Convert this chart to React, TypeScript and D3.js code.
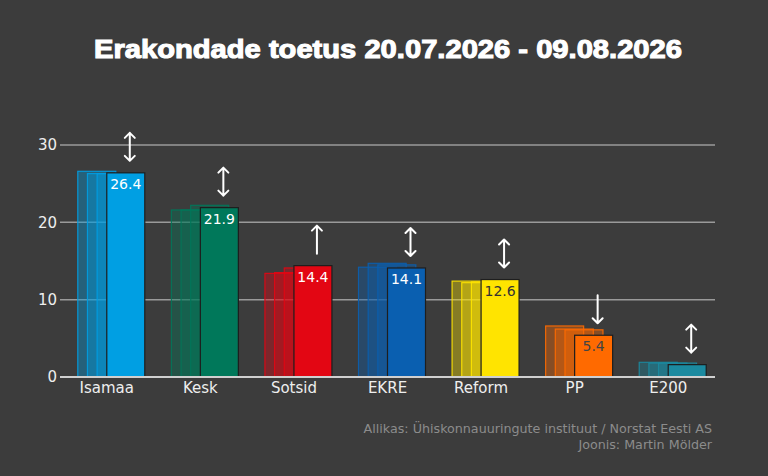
import * as d3 from "d3";

// party support, three previous polls + the current one
const parties = ["Isamaa", "Kesk", "Sotsid", "EKRE", "Reform", "PP", "E200"];
const poll1 = [26.6, 21.6, 13.4, 14.2, 12.4, 6.6, 1.9];
const poll2 = [26.3, 21.6, 13.5, 14.7, 12.2, 6.2, 1.8];
const poll3 = [26.3, 22.2, 14.1, 14.5, 12.3, 6.1, 1.8];
const current = [26.4, 21.9, 14.4, 14.1, 12.6, 5.4, 1.6];
const trend = ["both", "both", "up", "both", "both", "down", "both"];
const partyColors = ["#009fe3", "#00785a", "#e30613", "#0a5fb0", "#ffe400", "#ff6a00", "#1b8aa0"];
const labelColors = ["#ffffff", "#ffffff", "#ffffff", "#ffffff", "#333333", "#444444", "#ffffff"];
const yTicks = [0, 10, 20, 30];

const W = 768;
const H = 476;
const font = "'DejaVu Sans', Verdana, sans-serif";

export default function App() {
  const x = d3.scaleBand().domain(parties).range([60, 715]).padding(0);
  const y = d3.scaleLinear().domain([0, 30]).range([377, 145]);
  const offset = d3.scalePoint<number>().domain([0, 1, 2, 3]).range([-29, 0]);
  const barW = 38;
  const polls = [poll1, poll2, poll3];

  const arrowPath = (cx: number, top: number, bottom: number, kind: string) => {
    const p = d3.path();
    p.moveTo(cx, top);
    p.lineTo(cx, bottom);
    if (kind === "both" || kind === "up") {
      p.moveTo(cx - 5, top + 5);
      p.lineTo(cx, top);
      p.lineTo(cx + 5, top + 5);
    }
    if (kind === "both" || kind === "down") {
      p.moveTo(cx - 5, bottom - 5);
      p.lineTo(cx, bottom);
      p.lineTo(cx + 5, bottom - 5);
    }
    return p.toString();
  };

  return (
    <svg
      width={W}
      height={H}
      style={{ position: "absolute", left: 0, top: 0, background: "#3c3c3c" }}
    >
      <rect width={W} height={H} fill="#3c3c3c" />
      <text
        x={388}
        y={58}
        textAnchor="middle"
        fill="#ffffff"
        stroke="#ffffff"
        strokeWidth={1.1}
        fontFamily="'Liberation Sans', Arial, sans-serif"
        fontWeight="bold"
        fontSize={26}
        textLength={588}
        lengthAdjust="spacingAndGlyphs"
      >
        Erakondade toetus 20.07.2026 - 09.08.2026
      </text>

      {/* grid */}
      {yTicks.map((t) => (
        <g key={t}>
          {t > 0 && (
            <line x1={60} x2={715} y1={y(t)} y2={y(t)} stroke="#9a9a9a" strokeWidth={1.5} />
          )}
          <text
            x={57}
            y={y(t)}
            dy="0.35em"
            textAnchor="end"
            fill="#eeeeee"
            fontFamily={font}
            fontSize={15}
          >
            {t}
          </text>
        </g>
      ))}

      {parties.map((p, i) => {
        const c = x(p)! + x.bandwidth() / 2;
        const col = partyColors[i];
        const top = y(current[i]);
        const cx = c + offset(3)! + barW / 2;
        return (
          <g key={p}>
            {polls.map((poll, k) => (
              <rect
                key={k}
                x={c + offset(k)!}
                y={y(poll[i])}
                width={barW}
                height={y(0) - y(poll[i])}
                fill={col}
                fillOpacity={0.38}
                stroke={col}
                strokeOpacity={0.9}
                strokeWidth={1.2}
              />
            ))}
            <rect
              x={c + offset(3)!}
              y={top}
              width={barW}
              height={y(0) - top}
              fill={col}
              stroke="#1e1e1e"
              strokeWidth={1.2}
            />
            {current[i] >= 3 && (
              <text
                x={cx}
                y={top + 16}
                textAnchor="middle"
                fill={labelColors[i]}
                fontFamily={font}
                fontSize={14}
              >
                {current[i].toFixed(1)}
              </text>
            )}
            <path
              d={arrowPath(cx + 4, top - 40, top - 12, trend[i])}
              fill="none"
              stroke="#ffffff"
              strokeWidth={2}
              strokeLinecap="round"
              strokeLinejoin="round"
            />
            <text
              x={c}
              y={393}
              textAnchor="middle"
              fill="#eeeeee"
              fontFamily={font}
              fontSize={15}
            >
              {p}
            </text>
          </g>
        );
      })}

      <line x1={60} x2={715} y1={y(0)} y2={y(0)} stroke="#d0d0d0" strokeWidth={2} />

      <text
        x={712}
        y={433}
        textAnchor="end"
        fill="#8c8c8c"
        fontFamily={font}
        fontSize={12.7}
      >
        Allikas: Ühiskonnauuringute instituut / Norstat Eesti AS
      </text>
      <text
        x={712}
        y={449}
        textAnchor="end"
        fill="#8c8c8c"
        fontFamily={font}
        fontSize={12.7}
      >
        Joonis: Martin Mölder
      </text>
    </svg>
  );
}
